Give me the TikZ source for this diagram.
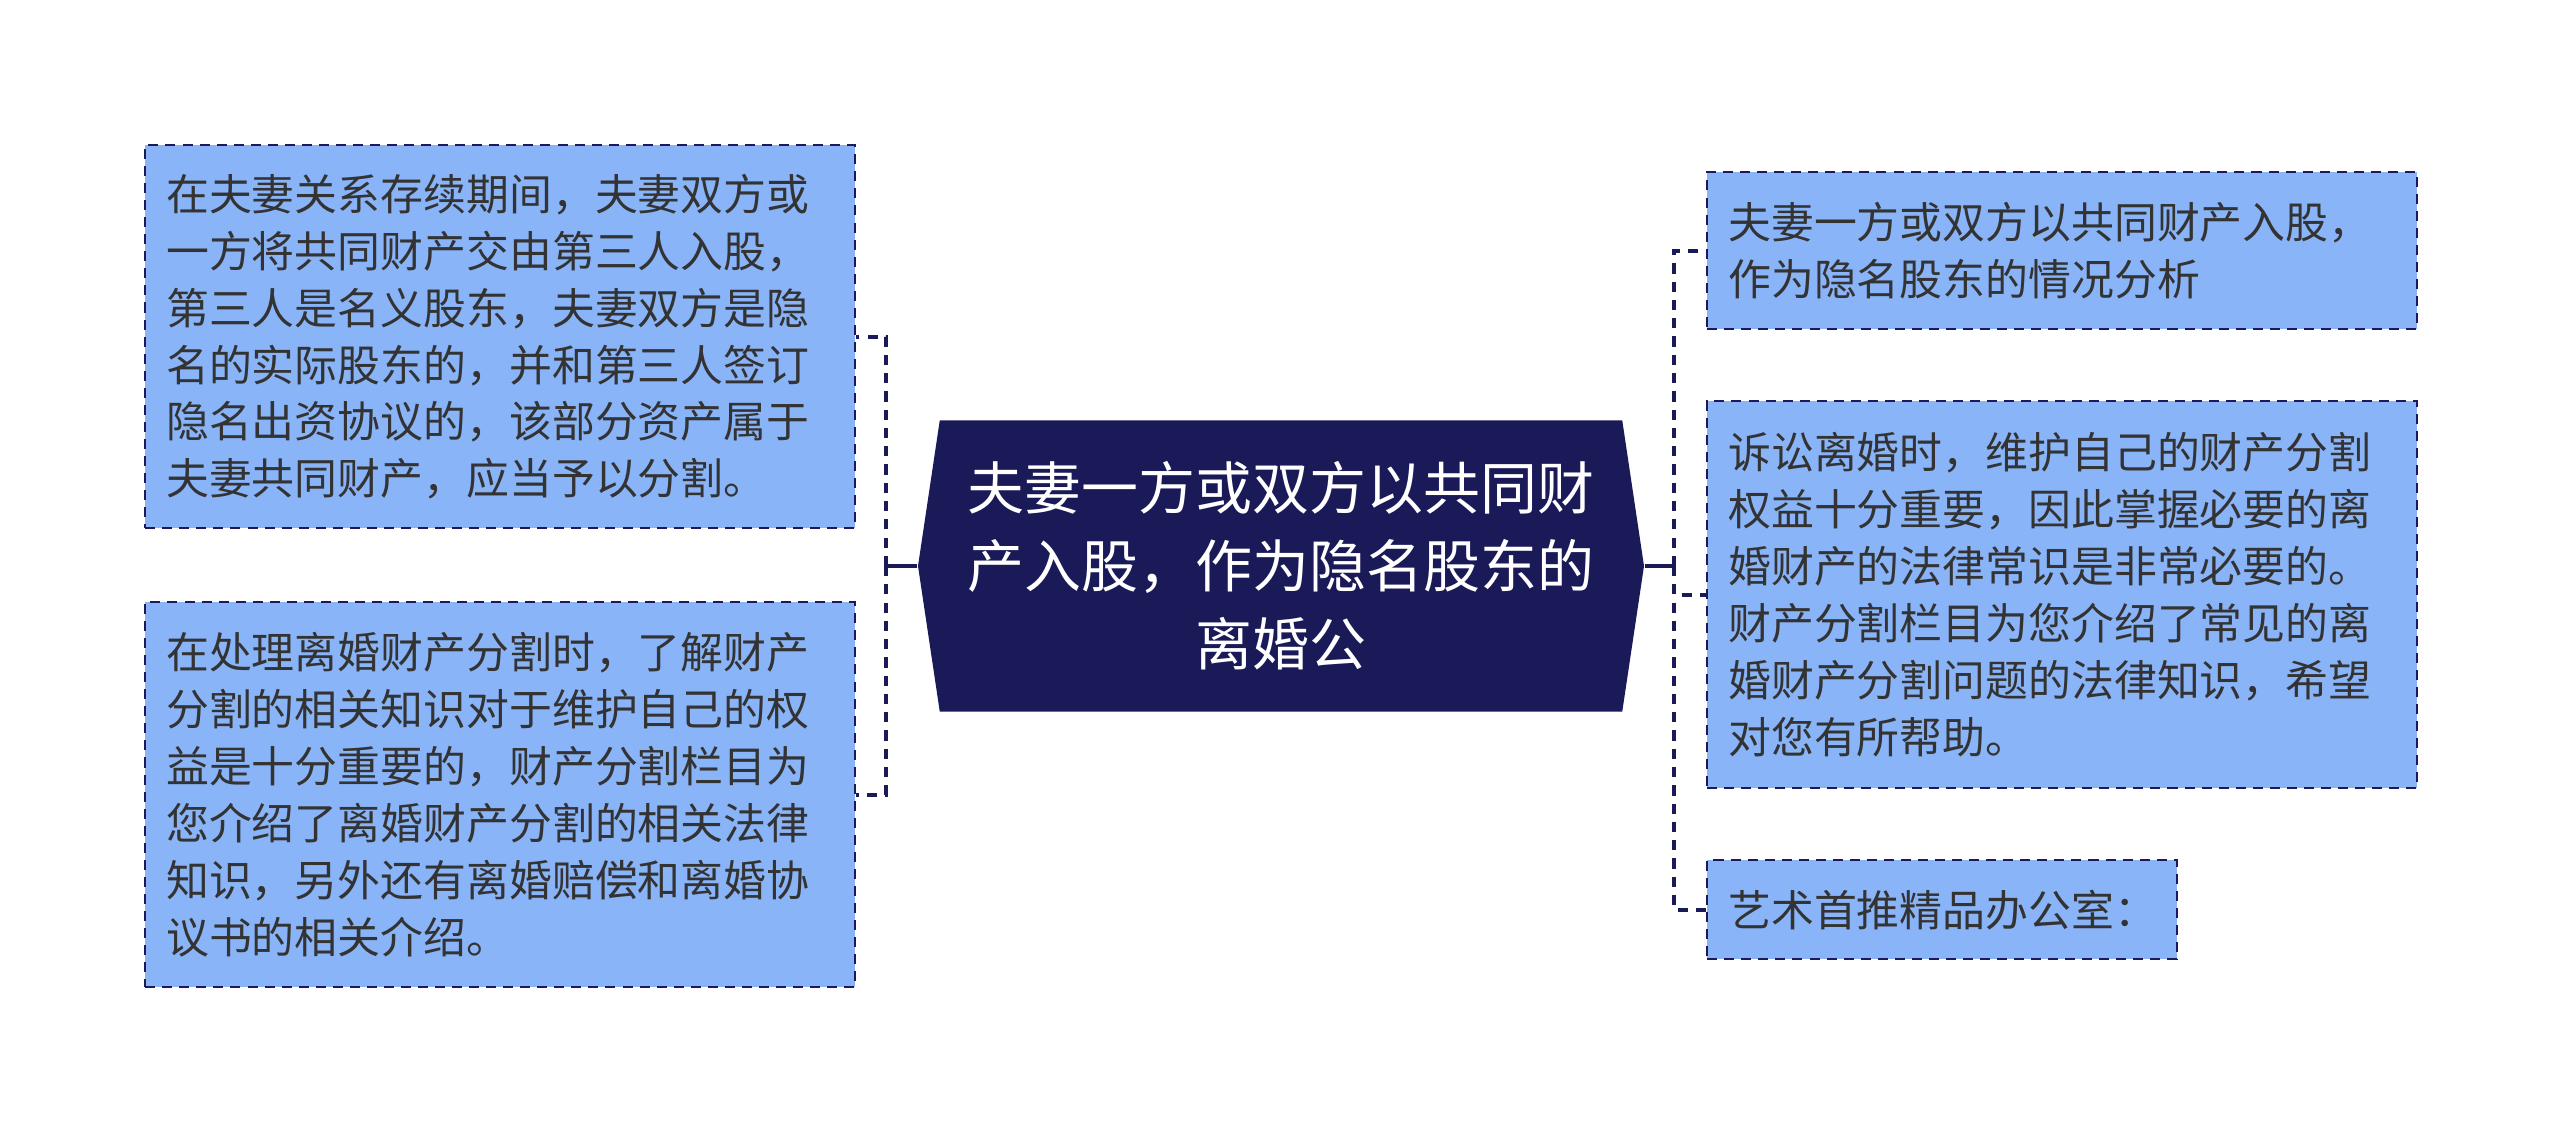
\documentclass[tikz,border=0pt]{standalone}
\usepackage{fontspec}
\setmainfont{Noto Sans CJK SC}
\usetikzlibrary{shapes.symbols}
\definecolor{navy}{HTML}{1B1A59}
\definecolor{leafblue}{HTML}{8AB4F8}
\definecolor{leaftext}{HTML}{333333}
\tikzstyle{root} = [
    signal,
    signal to=west and east,
    signal pointer angle=163,
    minimum width=7.26cm,
    minimum height=2.91cm,
    fill=navy,
    text=white,
    align=center,
    font={\fontsize{16.2pt}{22.2pt}\selectfont}
]
\tikzstyle{leaf} = [
    rectangle,
    anchor=north west,
    text width=6.68cm,
    inner xsep=0.21cm,
    inner ysep=0.2cm,
    align=left,
    fill=leafblue,
    draw=navy,
    line width=0.7pt,
    dash pattern=on 2.85pt off 2pt,
    text=leaftext,
    font={\fontsize{12.2pt}{16.2pt}\selectfont}
]
\tikzstyle{trunk} = [navy, line width=1.15pt]
\tikzstyle{branch} = [navy, line width=1.15pt, dash pattern=on 2.9pt off 2.3pt]

\begin{document}
\begin{tikzpicture}

\useasboundingbox [fill=white] (0,0) rectangle (25.6,-11.32);

\node (root) [root] at (12.81,-5.66)
{夫妻一方或双方以共同财\\
产入股，作为隐名股东的\\
离婚公};

\node (leftA) [leaf, minimum height=3.83cm] at (1.44,-1.44)
{在夫妻关系存续期间，夫妻双方或\\
一方将共同财产交由第三人入股，\\
第三人是名义股东，夫妻双方是隐\\
名的实际股东的，并和第三人签订\\
隐名出资协议的，该部分资产属于\\
夫妻共同财产，应当予以分割。};

\node (leftB) [leaf, minimum height=3.85cm] at (1.44,-6.01)
{在处理离婚财产分割时，了解财产\\
分割的相关知识对于维护自己的权\\
益是十分重要的，财产分割栏目为\\
您介绍了离婚财产分割的相关法律\\
知识，另外还有离婚赔偿和离婚协\\
议书的相关介绍。};

\node (rightA) [leaf, minimum height=1.57cm] at (17.06,-1.71)
{夫妻一方或双方以共同财产入股，\\
作为隐名股东的情况分析};

\node (rightB) [leaf, minimum height=3.87cm] at (17.06,-4.00)
{诉讼离婚时，维护自己的财产分割\\
权益十分重要，因此掌握必要的离\\
婚财产的法律常识是非常必要的。\\
财产分割栏目为您介绍了常见的离\\
婚财产分割问题的法律知识，希望\\
对您有所帮助。};

\node (rightC) [leaf, minimum height=0.99cm, text width=4.28cm] at (17.06,-8.59)
{艺术首推精品办公室：};

\coordinate (lhub) at (8.86,-5.66);
\coordinate (rhub) at (16.74,-5.66);

% Links
\draw [trunk] (root.west) -- (lhub);
\draw [trunk] (root.east) -- (rhub);
\draw [branch] (lhub) |- (leftA.east);
\draw [branch] (lhub) |- (leftB.east);
\draw [branch] (rhub) |- (rightA.west);
\draw [branch] (rhub) |- (rightB.west);
\draw [branch] (rhub) |- (rightC.west);

\end{tikzpicture}
\end{document}
